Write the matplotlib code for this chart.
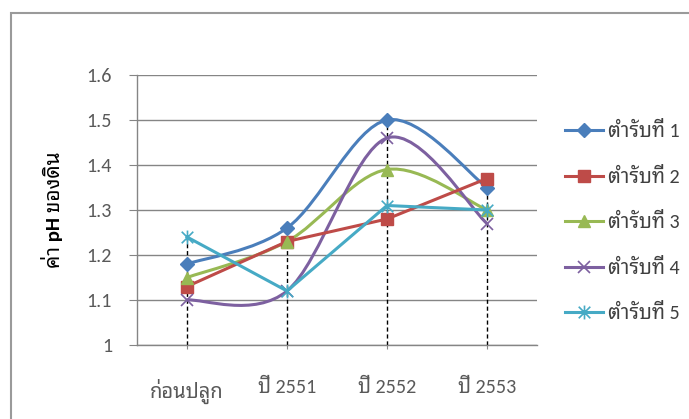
import matplotlib
matplotlib.use("Agg")
import matplotlib.pyplot as plt
from matplotlib.path import Path
from matplotlib.patches import PathPatch, Rectangle
from matplotlib.lines import Line2D
import numpy as np
import logging
logging.getLogger('matplotlib.font_manager').setLevel(logging.ERROR)

plt.rcParams['font.family'] = ['Carlito', 'Noto Sans Thai Looped', 'Noto Sans Thai', 'Sarabun', 'DejaVu Sans']

categories = ["ก่อนปลูก", "ปี 2551", "ปี 2552", "ปี 2553"]
series_names = ["ตำรับที่ 1", "ตำรับที่ 2", "ตำรับที่ 3", "ตำรับที่ 4", "ตำรับที่ 5"]
s1 = [1.18, 1.26, 1.50, 1.35]
s2 = [1.13, 1.23, 1.28, 1.37]
s3 = [1.15, 1.23, 1.39, 1.30]
s4 = [1.10, 1.12, 1.46, 1.27]
s5 = [1.24, 1.12, 1.31, 1.30]
y_ticks = [1, 1.1, 1.2, 1.3, 1.4, 1.5, 1.6]
y_ticklabels = ["1", "1.1", "1.2", "1.3", "1.4", "1.5", "1.6"]
y_label = "ค่า pH ของดิน"

colors = ["#4a7ebb", "#be4b48", "#98b954", "#7d60a0", "#46aac5"]
smooth = [True, False, True, True, False]
star = Path([(-1, -1), (1, 1), (-1, 1), (1, -1), (0, -1.2), (0, 1.2)],
            [Path.MOVETO, Path.LINETO, Path.MOVETO, Path.LINETO, Path.MOVETO, Path.LINETO])
markers = ["D", "s", "^", "x", star]
msizes = [7, 9, 9, 9, 10]
medge = [1, 1, 1, 1.2, 1.2]

fig = plt.figure(figsize=(6.89, 4.19), dpi=100)
ax = fig.add_axes([137/689, 1-345/419, 400/689, 270/419])

x = np.arange(len(categories)) + 0.5


def smooth_path(xs, ys, t=1/6):
    pts = list(zip(xs, ys))
    n = len(pts)
    verts = [pts[0]]
    codes = [Path.MOVETO]
    for i in range(n - 1):
        p0 = pts[max(i - 1, 0)]
        p1 = pts[i]
        p2 = pts[i + 1]
        p3 = pts[min(i + 2, n - 1)]
        c1 = (p1[0] + (p2[0] - p0[0]) * t, p1[1] + (p2[1] - p0[1]) * t)
        c2 = (p2[0] - (p3[0] - p1[0]) * t, p2[1] - (p3[1] - p1[1]) * t)
        verts += [c1, c2, p2]
        codes += [Path.CURVE4] * 3
    return Path(verts, codes)


all_series = [s1, s2, s3, s4, s5]

# drop lines from highest point to the axis
maxvals = np.max(np.array(all_series), axis=0)
ax.vlines(x, 1.0, maxvals, colors="black", linestyles=(0, (3, 2)), linewidth=1, zorder=2)

handles = []
for ys, c, sm, m, ms, me, name in zip(all_series, colors, smooth, markers, msizes, medge, series_names):
    if sm:
        ax.add_patch(PathPatch(smooth_path(x, ys), facecolor="none", edgecolor=c,
                               linewidth=2.2, zorder=3, capstyle="round"))
        ax.plot(x, ys, linestyle="none", marker=m, color=c, markersize=ms,
                markeredgewidth=me, zorder=4)
    else:
        ax.plot(x, ys, color=c, linewidth=2.2, marker=m, markersize=ms,
                markeredgewidth=me, zorder=4)
    handles.append(Line2D([], [], color=c, linewidth=2.2, marker=m, markersize=ms,
                          markeredgewidth=me))

ax.set_xlim(0, 4)
ax.set_ylim(1, 1.6)
ax.set_yticks(y_ticks)
ax.set_yticklabels(y_ticklabels)
ax.set_xticks(x)
ax.set_xticklabels(categories)
ax.grid(axis="y", color="#858585", linewidth=1)
ax.set_axisbelow(True)
for sp in ["top", "right"]:
    ax.spines[sp].set_visible(False)
for sp in ["left", "bottom"]:
    ax.spines[sp].set_color("#858585")
    ax.spines[sp].set_linewidth(1)
ax.tick_params(axis="y", direction="out", length=6, color="#858585", labelcolor="#595959",
               labelsize=14.5, pad=12)
ax.tick_params(axis="x", direction="out", length=3, color="#858585", labelcolor="#595959",
               labelsize=14.5, pad=21)
ax.set_ylabel(y_label, fontsize=15, fontweight="bold", color="black")
ax.yaxis.set_label_coords(-0.185, 0.5)

leg = fig.legend(handles, series_names, loc="upper left", bbox_to_anchor=(565/689, 1-121/419),
                 frameon=False, fontsize=14.5, labelcolor="#404040", handlelength=1.9,
                 handletextpad=0.25, labelspacing=1.32, borderaxespad=0, borderpad=0)

fig.patches.append(Rectangle((11/689, -0.1), 1.2, 1 - 13/419 + 0.1, transform=fig.transFigure,
                             facecolor="none", edgecolor="#9a9a9a", linewidth=1.5))

fig.savefig("out.png", dpi=100)
